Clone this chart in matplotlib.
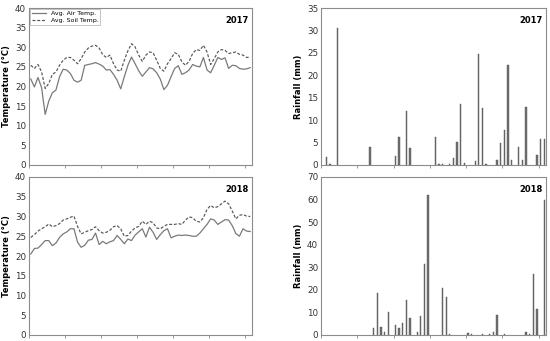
import numpy as np
import matplotlib
matplotlib.use('agg')
import matplotlib.pyplot as plt
from matplotlib import rcParams

rcParams['font.family'] = ['DejaVu Sans']

# daily values, 62 days per season
air_2017 = [21.9, 19.9, 22.3, 19.7, 12.9, 16.3, 18.4, 19.1, 22.5, 24.4,
            24.2, 23.3, 21.6, 21.1, 21.6, 25.4, 25.6, 25.8, 26.1, 25.7,
            25.2, 24.2, 24.3, 23.1, 21.6, 19.4, 22.5, 25.4, 27.5, 25.8,
            24.0, 22.6, 23.7, 24.8, 24.5, 23.5, 21.9, 19.2, 20.3, 22.5,
            24.6, 25.3, 23.1, 23.5, 24.2, 25.6, 25.2, 25.0, 27.4, 24.2,
            23.5, 25.4, 27.4, 26.9, 27.3, 24.6, 25.4, 25.3, 24.6, 24.4,
            24.5, 24.8]
soil_2017 = [25.4, 24.6, 25.6, 23.7, 19.5, 20.8, 23.1, 23.7, 25.4, 26.7,
             27.4, 27.4, 26.7, 25.8, 27.1, 28.8, 29.8, 30.3, 30.5, 29.8,
             28.1, 27.4, 28.0, 25.8, 24.2, 23.9, 26.7, 29.1, 30.9, 30.1,
             28.0, 26.4, 28.0, 28.8, 28.6, 26.7, 24.6, 23.9, 25.8, 27.1,
             28.6, 28.2, 26.3, 25.4, 26.4, 28.4, 29.4, 29.2, 30.5, 28.8,
             25.6, 27.1, 28.8, 29.4, 29.2, 28.4, 28.6, 28.8, 28.2, 28.0,
             27.4, 27.5]
air_2018 = [20.5, 21.9, 22.0, 22.9, 23.9, 23.9, 22.6, 23.3, 24.7, 25.6,
            26.1, 26.9, 26.9, 23.5, 22.2, 22.7, 24.0, 24.2, 25.8, 22.9,
            23.7, 23.1, 23.6, 23.9, 25.2, 24.2, 23.1, 24.3, 23.9, 25.3,
            26.1, 26.9, 24.8, 27.3, 26.0, 24.2, 25.4, 26.4, 26.9, 24.6,
            25.0, 25.3, 25.2, 25.3, 25.2, 25.0, 25.0, 25.8, 26.9, 28.0,
            29.4, 29.1, 28.0, 28.6, 29.2, 29.1, 27.7, 25.7, 25.0, 26.9,
            26.3, 26.2]
soil_2018 = [24.7, 25.4, 26.3, 26.9, 27.4, 28.1, 27.4, 27.7, 28.2, 29.1,
             29.4, 29.8, 30.1, 27.5, 25.6, 26.0, 26.4, 26.7, 27.4, 26.4,
             25.8, 26.0, 26.5, 27.4, 27.7, 26.9, 25.0, 25.2, 26.3, 27.1,
             27.5, 28.8, 28.0, 28.8, 28.4, 27.1, 26.9, 27.5, 28.0, 28.0,
             28.0, 28.2, 28.0, 29.1, 29.9, 29.7, 28.8, 28.6, 29.7, 31.8,
             32.8, 32.2, 32.5, 33.2, 33.9, 33.2, 31.4, 29.4, 30.3, 30.5,
             30.1, 30.0]

# rainfall: day index -> mm
rain_days_2017 = [1, 2, 4, 13, 20, 21, 23, 24, 31, 32, 33, 35, 36, 37, 38, 39,
                  42, 43, 44, 45, 48, 49, 50, 51, 52, 54, 55, 56, 59, 60, 61]
rain_mm_2017 = [1.8, 0.3, 30.5, 4.0, 2.0, 6.3, 12.1, 3.9, 6.3, 0.3, 0.3, 0.3,
                1.5, 5.1, 13.6, 0.5, 0.8, 24.7, 12.7, 0.3, 1.1, 4.8, 7.8, 22.3,
                1.1, 4.0, 1.1, 13.0, 2.2, 5.8, 5.8]
rain_days_2018 = [14, 15, 16, 17, 18, 20, 21, 22, 23, 24, 26, 27, 28, 29, 33,
                  34, 35, 40, 41, 44, 46, 47, 48, 50, 56, 57, 58, 59, 61]
rain_mm_2018 = [3.0, 18.6, 3.6, 1.2, 10.1, 4.3, 3.3, 5.4, 15.5, 7.7, 1.3, 8.5,
                31.6, 62.1, 20.7, 17.0, 0.3, 0.7, 0.3, 0.3, 0.5, 1.2, 8.9, 0.5,
                1.2, 0.3, 27.1, 11.5, 60.0]

n_days = 62
W, H = 550, 341
fig = plt.figure(figsize=(W / 100, H / 100), dpi=100)


def px_axes(x0, y0, x1, y1):
    # axes from pixel box (top-left origin)
    return fig.add_axes([x0 / W, 1 - y1 / H, (x1 - x0) / W, (y1 - y0) / H])


def style_axes(ax, ymax, ystep, ylabel, year):
    ax.set_xlim(0, n_days)
    ax.set_ylim(0, ymax)
    ax.set_xticks(np.arange(0, n_days + 1, 10))
    ax.set_xticklabels([])
    ax.set_yticks(np.arange(0, ymax + 0.1, ystep))
    ax.tick_params(axis='both', labelsize=6.3, length=2.5, width=0.6,
                   color='#888888', labelcolor='#333333', pad=2)
    ax.tick_params(axis='y', length=0)
    for s in ax.spines.values():
        s.set_color('#8c8c8c')
        s.set_linewidth(0.8)
    ax.set_ylabel(ylabel, fontsize=6, fontweight='bold', labelpad=3)
    ax.text(0.985, 0.95, year, transform=ax.transAxes, ha='right', va='top',
            fontsize=6, fontweight='bold')


x = np.arange(n_days) + 0.5
temps = [(air_2017, soil_2017, '2017', 8, 165),
         (air_2018, soil_2018, '2018', 177, 335)]
for i, (air, soil, year, y0, y1) in enumerate(temps):
    ax = px_axes(29, y0, 252, y1)
    ax.plot(x, air, color='#7a7a7a', lw=0.9, label='Avg. Air Temp.')
    ax.plot(x, soil, color='#555555', lw=0.85, ls=(0, (2.5, 1.5)),
            label='Avg. Soil Temp.')
    style_axes(ax, 40, 5, 'Temperature (°C)', year)
    if i == 0:
        leg = ax.legend(loc='upper left', fontsize=4.5, frameon=True,
                        borderpad=0.3, handlelength=2.2, labelspacing=0.3,
                        borderaxespad=0.15, fancybox=False)
        leg.get_frame().set_edgecolor('#999999')
        leg.get_frame().set_linewidth(0.5)

rains = [(rain_days_2017, rain_mm_2017, '2017', 35, 5, 8, 165),
         (rain_days_2018, rain_mm_2018, '2018', 70, 10, 177, 335)]
for days, mm, year, ymax, ystep, y0, y1 in rains:
    ax = px_axes(321, y0, 546, y1)
    ax.bar(np.array(days) + 0.5, mm, width=0.35, color='#707070',
           edgecolor='#555555', linewidth=0.3)
    style_axes(ax, ymax, ystep, 'Rainfall (mm)', year)

plt.savefig('out.png', dpi=100)
